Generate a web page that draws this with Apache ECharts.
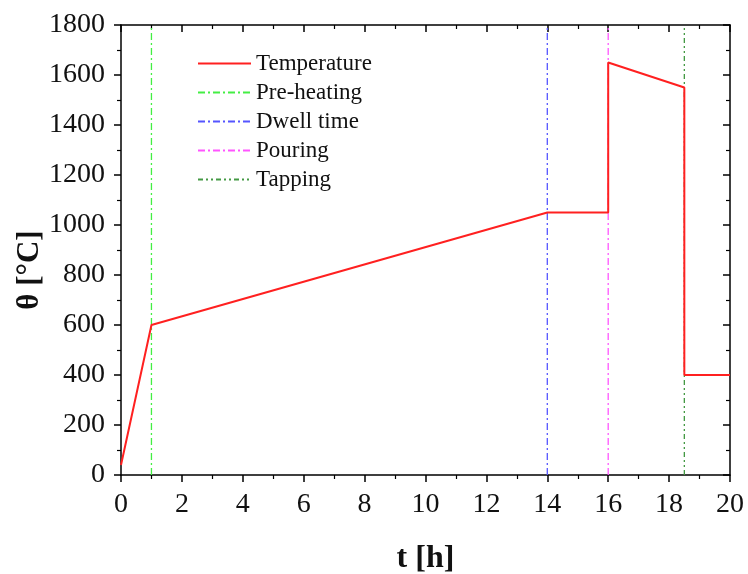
<!DOCTYPE html>
<html><head><meta charset="utf-8">
<script src="https://cdn.jsdelivr.net/npm/echarts@6/dist/echarts.min.js"></script>
<style>html,body{margin:0;padding:0;background:#fff}#c{width:748px;height:574px}</style>
</head><body><div id="c"></div>
<script>
var tempT = [0, 1, 14, 16, 16, 18.5, 18.5, 20];
var tempV = [40, 600, 1050, 1050, 1650, 1550, 400, 400];
var markerNames = ['Pre-heating', 'Dwell time', 'Pouring', 'Tapping'];
var markerTimes = [1, 14, 16, 18.5];
var markerColors = ['#44ee44', '#5555ff', '#ff55ff', '#449944'];
var markerDash = [[7,3,2,3],[7,3,2,3],[7,3,2,3],[5,3,2,3,2,3]];
var yRange = [0, 1800];

var F = 'Liberation Serif, Times New Roman, serif';
var series = [{
  name: 'Temperature', type: 'line', symbol: 'none',
  data: tempT.map(function(t,i){return [t, tempV[i]];}),
  lineStyle: {color: '#ff2020', width: 2}, itemStyle:{color:'#ff2020'}, z: 5
}];
markerNames.forEach(function(n,i){
  series.push({name: n, type:'line', symbol:'none',
    data: [[markerTimes[i], yRange[0]],[markerTimes[i], yRange[1]]],
    lineStyle:{color: markerColors[i], width: 1.3, type: markerDash[i]},
    itemStyle:{color: markerColors[i]}, z: 3});
});
series.push({name:'_frame', type:'line', xAxisIndex:1, yAxisIndex:1, symbol:'none', data:[[0,0]], lineStyle:{opacity:0}, silent:true});
var chart = echarts.init(document.getElementById('c'));
var axLine = {show:true, onZero:false, lineStyle:{color:'#000', width:1.5}};
var noComma = function(v){return String(v);};
chart.setOption({
  animation:false,
  grid:{left:121, right:18, top:25, bottom:99, outerBoundsMode:'none', containLabel:false},
  legend:{orient:'vertical', left:197, top:52, padding:0, itemWidth:53, itemHeight:14, itemGap:6,
    itemStyle:{opacity:0},
    textStyle:{fontFamily:F, fontSize:23, color:'#111'},
    data: ['Temperature'].concat(markerNames)
  },
  xAxis:[{type:'value', min:0, max:20, interval:2, position:'bottom',
    axisLine:axLine, axisTick:{show:true, inside:false, length:7, lineStyle:{width:1.5,color:'#000'}},
    minorTick:{show:true, splitNumber:2, length:4, lineStyle:{color:'#000', width:1.2}},
    splitLine:{show:false},
    axisLabel:{fontFamily:F, fontSize:28, color:'#111', margin:16, formatter:noComma},
    name:'t [h]', nameLocation:'middle', nameGap:68, nameMoveOverlap:false,
    nameTextStyle:{fontFamily:F, fontSize:32, fontWeight:'bold', color:'#111'}},
   {type:'value', min:0, max:20, interval:2, position:'top',
    axisLine:axLine, axisTick:{show:true, inside:true, length:7, lineStyle:{width:1.5,color:'#000'}},
    minorTick:{show:true, splitNumber:2, length:4, lineStyle:{color:'#000', width:1.2}},
    splitLine:{show:false}, axisLabel:{show:false}}],
  yAxis:[{type:'value', min:0, max:1800, interval:200, position:'left',
    axisLine:axLine, axisTick:{show:true, inside:false, length:7, lineStyle:{width:1.5,color:'#000'}},
    minorTick:{show:true, splitNumber:2, length:4, lineStyle:{color:'#000', width:1.2}},
    splitLine:{show:false},
    axisLabel:{fontFamily:F, fontSize:28, color:'#111', margin:16, formatter:noComma},
    name:'θ [°C]', nameLocation:'middle', nameGap:76, nameRotate:90, nameMoveOverlap:false,
    nameTextStyle:{fontFamily:F, fontSize:31, fontWeight:'bold', color:'#111', padding:[0,40,0,0]}},
   {type:'value', min:0, max:1800, interval:200, position:'right',
    axisLine:axLine, axisTick:{show:true, inside:true, length:7, lineStyle:{width:1.5,color:'#000'}},
    minorTick:{show:true, splitNumber:2, length:4, lineStyle:{color:'#000', width:1.2}},
    splitLine:{show:false}, axisLabel:{show:false}}],
  series: series
});
</script></body></html>
